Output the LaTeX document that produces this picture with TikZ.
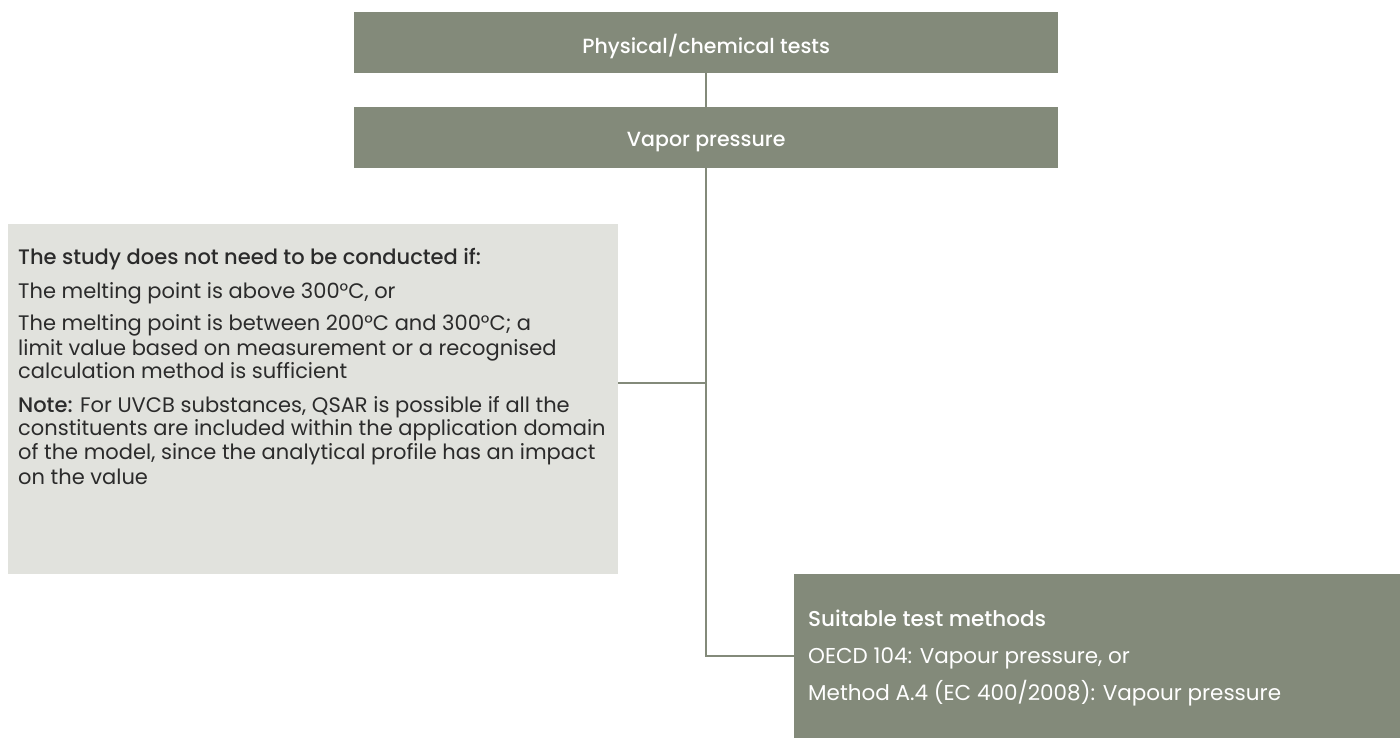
\documentclass[tikz,border=0pt]{standalone}
\usepackage{fontspec}
\setmainfont{Poppins}[BoldFont={Poppins Medium}]
\begin{document}
\begin{tikzpicture}[x=1pt,y=1pt,
  darkbox/.style={fill=sage, draw=none, inner sep=0pt, anchor=north west},
  lightbox/.style={fill=mist, draw=none, inner sep=0pt, anchor=north west},
  headtext/.style={text=white, font=\fontsize{20.5}{24}\selectfont\bfseries},
  bodytext/.style={inner sep=0pt, anchor=base west},
  link/.style={draw=sage, line width=2pt}]
\definecolor{sage}{HTML}{838A7A}
\definecolor{mist}{HTML}{E1E2DD}
\definecolor{ink}{HTML}{2B2B2B}
\useasboundingbox (0,0) rectangle (1400,-738);

% header boxes
\node[darkbox, minimum width=704pt, minimum height=61pt] (top) at (354,-12) {};
\node[headtext] at ([yshift=-4pt]top.center) {Physical/chemical tests};
\node[darkbox, minimum width=704pt, minimum height=61pt] (vp) at (354,-107) {};
\node[headtext] at ([yshift=-4pt]vp.center) {Vapor pressure};

% waiver box
\node[lightbox, minimum width=610pt, minimum height=350pt] (lb) at (8,-224) {};
\node[bodytext, text=ink] (lbt) at (18,-265) {\parbox[t]{600pt}{\fontsize{21}{24}\selectfont\raggedright\parskip=9pt
{\bfseries The study does not need to be conducted if:}\par
The melting point is above 300°C, or\par
The melting point is between 200°C and 300°C; a\\
limit value based on measurement or a recognised\\
calculation method is sufficient\par
{\bfseries Note:} For UVCB substances, QSAR is possible if all the\\
constituents are included within the application domain\\
of the model, since the analytical profile has an impact\\
on the value}};

% methods box
\node[darkbox, minimum width=606pt, minimum height=164pt] (rb) at (794,-574) {};
\node[bodytext, text=white] (rbt) at (808,-626) {\parbox[t]{580pt}{\fontsize{21.5}{37}\selectfont\raggedright
{\bfseries Suitable test methods}\\
OECD 104: Vapour pressure, or\\
Method A.4 (EC 400/2008): Vapour pressure}};

% connectors
\coordinate (j) at (706,-383);
\draw[link] (top.south) -- (vp.north);
\draw[link] (vp.south) |- (rb.west);
\draw[link] (lb.east |- j) -- (j);
\end{tikzpicture}
\end{document}
